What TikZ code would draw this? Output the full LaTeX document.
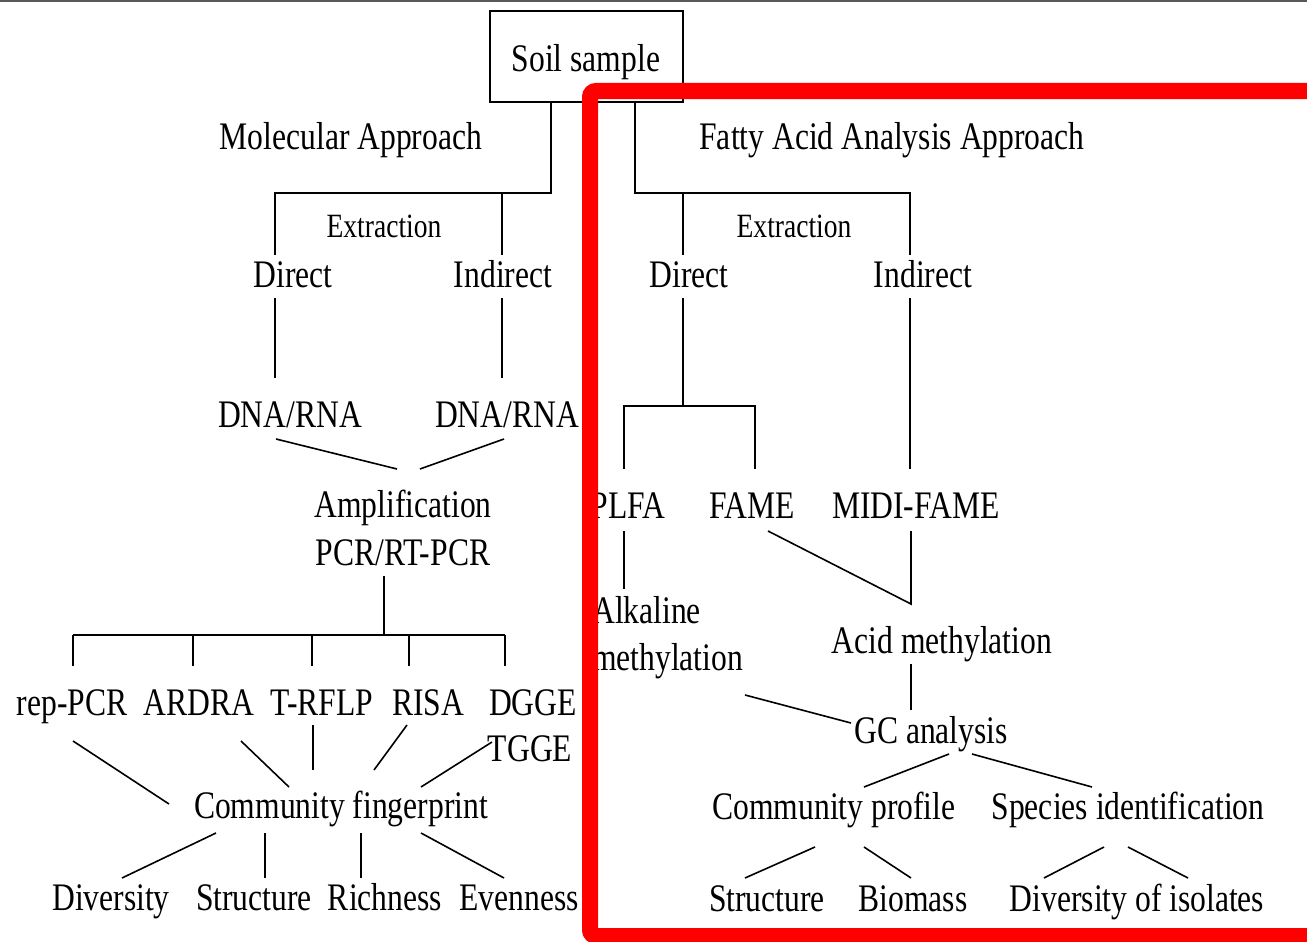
\documentclass[tikz,border=0pt]{standalone}
\usepackage{fontspec}
\setmainfont[FakeStretch=0.81]{Liberation Serif}
\tikzset{
  lbl/.style={inner sep=0pt, anchor=base, font=\fontsize{39}{39}\selectfont},
  sml/.style={lbl, font=\fontsize{34}{34}\selectfont},
  ln/.style={line width=1.6pt, black},
  boxst/.style={draw, line width=1.6pt, minimum width=193pt, minimum height=91pt, inner sep=0pt},
  frame/.style={draw=red, line width=16pt, rounded corners=6pt},
}
\begin{document}
\begin{tikzpicture}[x=1pt,y=-1pt]
\useasboundingbox (0,0) rectangle (1307,942);
\fill[white] (0,0) rectangle (1307,942);
\draw[gray!70!black, line width=2pt] (0,1) -- (1307,1);

% ---------- nodes ----------
\node[boxst] (soilbox) at (586.5,56.5) {};
\node[lbl] (soil) at (586,72) {Soil sample};
\node[lbl] (molec) at (351,149) {Molecular Approach};
\node[sml] (extrL) at (384,237) {Extraction};
\node[lbl] (directL) at (293,287) {Direct};
\node[lbl] (indirectL) at (503,287) {Indirect};
\node[lbl] (dnaL) at (290,427) {DNA/RNA};
\node[lbl] (dnaR) at (507,427) {DNA/RNA};
\node[lbl] (amp) at (403,517) {Amplification};
\node[lbl] (pcr) at (403,565) {PCR/RT-PCR};
\node[lbl] (rep) at (72,715) {rep-PCR};
\node[lbl] (ardra) at (199,715) {ARDRA};
\node[lbl] (trflp) at (322,715) {T-RFLP};
\node[lbl] (risa) at (428,715) {RISA};
\node[lbl] (dgge) at (533,715) {DGGE};
\node[lbl] (tgge) at (530,761) {TGGE};
\node[lbl] (cf) at (341,818) {Community fingerprint};
\node[lbl] (div) at (111,910) {Diversity};
\node[lbl] (structL) at (254,910) {Structure};
\node[lbl] (rich) at (385,910) {Richness};
\node[lbl] (even) at (519,910) {Evenness};

\node[lbl] (fatty) at (892,149) {Fatty Acid Analysis Approach};
\node[sml] (extrR) at (794,237) {Extraction};
\node[lbl] (directR) at (689,287) {Direct};
\node[lbl] (indirectR) at (923,287) {Indirect};
\node[lbl] (plfa) at (628,518) {PLFA};
\node[lbl] (fame) at (752,518) {FAME};
\node[lbl] (midi) at (916,518) {MIDI-FAME};
\node[lbl, anchor=base west] (alk1) at (592,623) {Alkaline};
\node[lbl, anchor=base west] (alk2) at (592,670) {methylation};
\node[lbl] (acid) at (942,653) {Acid methylation};
\node[lbl] (gc) at (931,743) {GC analysis};
\node[lbl] (cp) at (834,819) {Community profile};
\node[lbl] (si) at (1128,819) {Species identification};
\node[lbl] (structR) at (767,911) {Structure};
\node[lbl] (bio) at (913,911) {Biomass};
\node[lbl] (doi) at (1137,911) {Diversity of isolates};

% ---------- coordinates ----------
\coordinate (mTop) at (soilbox.south -| 551,0);
\coordinate (mJ) at (551,193);
\coordinate (mL) at (275,193);
\coordinate (mR) at (502,193);
\coordinate (mLd) at (275,255);
\coordinate (mRd) at (502,255);
\coordinate (dL1) at (275,298); \coordinate (dL2) at (275,378);
\coordinate (dR1) at (502,298); \coordinate (dR2) at (502,378);
\coordinate (aL1) at (276,439); \coordinate (aL2) at (397,469);
\coordinate (aR1) at (504,439); \coordinate (aR2) at (420,469);
\coordinate (p1) at (384,576); \coordinate (p2) at (384,635);
\coordinate (b1) at (73,635); \coordinate (b5) at (505,635);
\coordinate (b2) at (193,635); \coordinate (b3) at (312,635); \coordinate (b4) at (409,635);
\coordinate (r1a) at (73,741); \coordinate (r1b) at (169,804);
\coordinate (r2a) at (241,741); \coordinate (r2b) at (289,787);
\coordinate (r3a) at (313,725); \coordinate (r3b) at (313,770);
\coordinate (r4a) at (407,725); \coordinate (r4b) at (374,770);
\coordinate (r5a) at (492,742); \coordinate (r5b) at (421,787);
\coordinate (o1a) at (216,833); \coordinate (o1b) at (122,878);
\coordinate (o2a) at (265,833); \coordinate (o2b) at (265,878);
\coordinate (o3a) at (361,833); \coordinate (o3b) at (361,878);
\coordinate (o4a) at (421,833); \coordinate (o4b) at (504,878);

\coordinate (fTop) at (soilbox.south -| 635,0);
\coordinate (fJ) at (635,193);
\coordinate (fR) at (910,193);
\coordinate (fL) at (683,193);
\coordinate (fLd) at (683,255);
\coordinate (fRd) at (910,255);
\coordinate (fd1) at (683,298); \coordinate (fd2) at (683,406);
\coordinate (fb1) at (624,406); \coordinate (fb2) at (755,406);
\coordinate (fb1d) at (624,469); \coordinate (fb2d) at (755,469);
\coordinate (fi1) at (910,298); \coordinate (fi2) at (910,469);
\coordinate (pl1) at (624,531); \coordinate (pl2) at (624,589);
\coordinate (fa1) at (768,531); \coordinate (fm) at (911,604); \coordinate (mi1) at (911,531);
\coordinate (ac1) at (911,664); \coordinate (ac2) at (911,710);
\coordinate (al1) at (745,695); \coordinate (al2) at (851,723);
\coordinate (g1a) at (949,754); \coordinate (g1b) at (864,787);
\coordinate (g2a) at (972,754); \coordinate (g2b) at (1092,787);
\coordinate (c1a) at (815,847); \coordinate (c1b) at (745,878);
\coordinate (c2a) at (864,847); \coordinate (c2b) at (911,878);
\coordinate (s1a) at (1104,847); \coordinate (s1b) at (1044,878);
\coordinate (s2a) at (1128,847); \coordinate (s2b) at (1188,878);

% ---------- connectors ----------
\draw[ln] (mTop) -- (mJ) -- (mL) -- (mLd);
\draw[ln] (mR) -- (mRd);
\draw[ln] (dL1) -- (dL2);
\draw[ln] (dR1) -- (dR2);
\draw[ln] (aL1) -- (aL2);
\draw[ln] (aR1) -- (aR2);
\draw[ln] (p1) -- (p2);
\draw[ln] (b1) -- (b5);
\foreach \c in {b1,b2,b3,b4,b5} \draw[ln] (\c) -- ++(0,31);
\draw[ln] (r1a) -- (r1b);
\draw[ln] (r2a) -- (r2b);
\draw[ln] (r3a) -- (r3b);
\draw[ln] (r4a) -- (r4b);
\draw[ln] (r5a) -- (r5b);
\draw[ln] (o1a) -- (o1b);
\draw[ln] (o2a) -- (o2b);
\draw[ln] (o3a) -- (o3b);
\draw[ln] (o4a) -- (o4b);

\draw[ln] (fTop) -- (fJ) -- (fR) -- (fRd);
\draw[ln] (fL) -- (fLd);
\draw[ln] (fd1) -- (fd2);
\draw[ln] (fb1d) -- (fb1) -- (fb2) -- (fb2d);
\draw[ln] (fi1) -- (fi2);
\draw[ln] (pl1) -- (pl2);
\draw[ln] (fa1) -- (fm) -- (mi1);
\draw[ln] (ac1) -- (ac2);
\draw[ln] (al1) -- (al2);
\draw[ln] (g1a) -- (g1b);
\draw[ln] (g2a) -- (g2b);
\draw[ln] (c1a) -- (c1b);
\draw[ln] (c2a) -- (c2b);
\draw[ln] (s1a) -- (s1b);
\draw[ln] (s2a) -- (s2b);

% ---------- red frame ----------
\draw[frame] (590,91) rectangle (1330,936);
\end{tikzpicture}
\end{document}
